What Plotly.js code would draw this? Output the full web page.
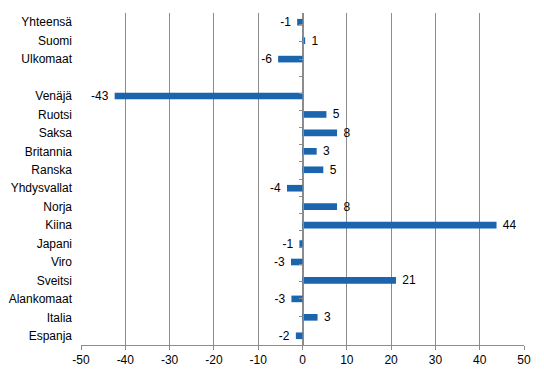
<!DOCTYPE html>
<html>
<head>
<meta charset="utf-8">
<script src="https://cdn.plot.ly/plotly-3.0.1.min.js"></script>
<style>html,body{margin:0;padding:0;background:#fff;}#chart{width:544px;height:374px;}</style>
</head>
<body>
<div id="chart"></div>
<script>
const categories = ["Yhteensä","Suomi","Ulkomaat"," ","Venäjä","Ruotsi","Saksa","Britannia","Ranska","Yhdysvallat","Norja","Kiina","Japani","Viro","Sveitsi","Alankomaat","Italia","Espanja"];
const values = [-1.2, 0.6, -5.5, null, -42.4, 5.4, 7.8, 3.2, 4.7, -3.5, 7.8, 43.8, -0.7, -2.6, 21.1, -2.5, 3.4, -1.5];
const labels = [-1, 1, -6, null, -43, 5, 8, 3, 5, -4, 8, 44, -1, -3, 21, -3, 3, -2];
const xTicks = [-50, -40, -30, -20, -10, 0, 10, 20, 30, 40, 50];

const nb = "\u00a0";
const templates = values.map(v => v == null ? "" : (v < 0 ? "%{text}" + nb : nb + "%{text}"));
const font = {family: "Liberation Sans, Arial, sans-serif", size: 12, color: "#000"};

const data = [
  {
    type: "bar", orientation: "h",
    y: categories, x: values,
    text: labels.map(l => l == null ? "" : String(l)),
    texttemplate: templates,
    textposition: "outside",
    constraintext: "none",
    textfont: font,
    cliponaxis: false,
    marker: {color: "#1a65ad"},
    hoverinfo: "skip"
  },
  {
    type: "scatter", mode: "markers",
    y: categories, x: categories.map(() => 0),
    yaxis: "y2",
    marker: {opacity: 0},
    hoverinfo: "skip", showlegend: false
  }
];

const layout = {
  width: 544, height: 374,
  margin: {l: 81, r: 20, t: 13, b: 29},
  paper_bgcolor: "#fff", plot_bgcolor: "#fff",
  showlegend: false,
  bargap: 0.64,
  font: font,
  xaxis: {
    range: [-50, 50],
    tickvals: xTicks,
    ticktext: xTicks.map(String),
    showgrid: true, gridcolor: "#8c8c8c", gridwidth: 1,
    zeroline: false,
    showline: true, linecolor: "#8c8c8c", linewidth: 1,
    ticks: "outside", ticklen: 4, tickcolor: "#8c8c8c",
    tickfont: font,
    fixedrange: true
  },
  yaxis: {
    type: "category",
    categoryorder: "array", categoryarray: categories,
    autorange: "reversed",
    showgrid: false, zeroline: false, showline: false,
    ticks: "",
    ticklabelstandoff: 8,
    tickfont: font,
    fixedrange: true
  },
  yaxis2: {
    type: "category",
    categoryorder: "array", categoryarray: categories,
    autorange: "reversed",
    overlaying: "y",
    anchor: "free", position: 0.5,
    side: "left",
    showgrid: false, zeroline: false,
    showline: true, linecolor: "#8c8c8c", linewidth: 1,
    ticks: "outside", tickson: "boundaries", ticklen: 4, tickcolor: "#8c8c8c",
    showticklabels: false,
    fixedrange: true
  }
};

Plotly.newPlot("chart", data, layout, {displayModeBar: false, staticPlot: true});
</script>
</body>
</html>
